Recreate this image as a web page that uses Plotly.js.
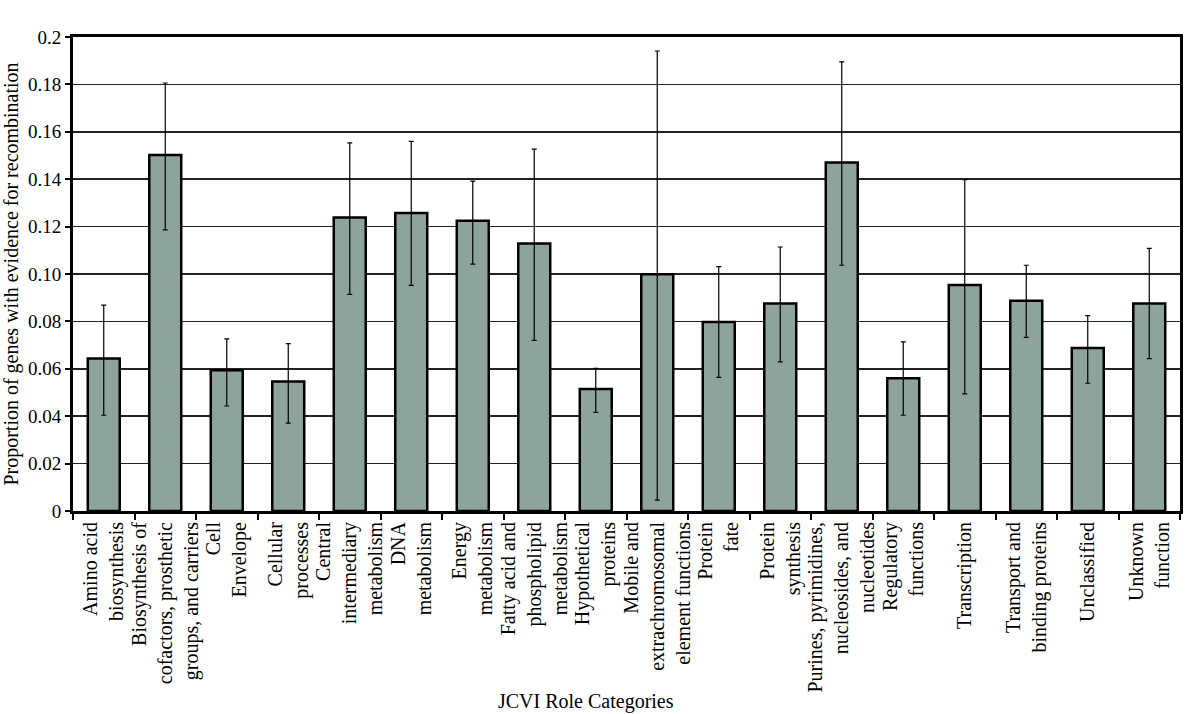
<!DOCTYPE html>
<html>
<head>
<meta charset="utf-8">
<script src="https://cdn.plot.ly/plotly-3.0.1.min.js"></script>
<style>html,body{margin:0;padding:0;background:#fff;}#chart{width:1200px;height:714px;}</style>
</head>
<body>
<div id="chart"></div>
<script>
const categories = [
  "Amino acid<br>biosynthesis",
  "Biosynthesis of<br>cofactors, prosthetic<br>groups, and carriers",
  "Cell<br>Envelope",
  "Cellular<br>processes",
  "Central<br>intermediary<br>metabolism",
  "DNA<br>metabolism",
  "Energy<br>metabolism",
  "Fatty acid and<br>phospholipid<br>metabolism",
  "Hypothetical<br>proteins",
  "Mobile and<br>extrachromosomal<br>element functions",
  "Protein<br>fate",
  "Protein<br>synthesis",
  "Purines, pyrimidines,<br>nucleosides, and<br>nucleotides",
  "Regulatory<br>functions",
  "Transcription",
  "Transport and<br>binding proteins",
  "Unclassified",
  "Unknown<br>function"
];
const proportion = [0.0643, 0.1502, 0.0594, 0.0546, 0.1238, 0.1257, 0.1225, 0.1129, 0.0515, 0.0999, 0.0797, 0.0876, 0.1470, 0.0560, 0.0954, 0.0887, 0.0688, 0.0876];
const upperBound = [0.0869, 0.1806, 0.0726, 0.0706, 0.1553, 0.1560, 0.1392, 0.1527, 0.0602, 0.1941, 0.1031, 0.1114, 0.1895, 0.0714, 0.1398, 0.1037, 0.0824, 0.1108];
const lowerBound = [0.0404, 0.1186, 0.0443, 0.0371, 0.0914, 0.0952, 0.1042, 0.0720, 0.0416, 0.0046, 0.0564, 0.0629, 0.1037, 0.0404, 0.0494, 0.0733, 0.0539, 0.0643];
const yTickVals = [0, 0.02, 0.04, 0.06, 0.08, 0.10, 0.12, 0.14, 0.16, 0.18, 0.2];
const yTickText = ["0", "0.02", "0.04", "0.06", "0.08", "0.10", "0.12", "0.14", "0.16", "0.18", "0.2"];

const errPlus = proportion.map((v, i) => upperBound[i] - v);
const errMinus = proportion.map((v, i) => v - lowerBound[i]);

const FONT = "'Liberation Serif', 'Times New Roman', serif";

const trace = {
  type: "bar",
  x: categories,
  y: proportion,
  marker: {color: "#8ea39e", line: {color: "#000", width: 2.5}},
  error_y: {type: "data", symmetric: false, array: errPlus, arrayminus: errMinus,
            color: "#000", thickness: 1.2, width: 2.5},
  hoverinfo: "x+y"
};

const layout = {
  width: 1200, height: 714,
  margin: {l: 73, r: 20, t: 37, b: 203},
  paper_bgcolor: "#fff", plot_bgcolor: "#fff",
  font: {family: FONT, color: "#000", size: 18},
  bargap: 0.48,
  showlegend: false,
  xaxis: {
    type: "category",
    tickangle: -90,
    tickfont: {family: FONT, size: 20, color: "#000"},
    ticks: "outside", tickson: "boundaries", ticklen: 6, tickwidth: 2, tickcolor: "#000",
    showline: true, linecolor: "#000", linewidth: 3, mirror: true,
    showgrid: false, automargin: false
  },
  yaxis: {
    range: [0, 0.2],
    tickvals: yTickVals, ticktext: yTickText,
    tickfont: {family: FONT, size: 19, color: "#000"},
    ticks: "outside", ticklen: 5, tickwidth: 2, tickcolor: "#000",
    showline: true, linecolor: "#000", linewidth: 3, mirror: true,
    showgrid: true, gridcolor: "#222", gridwidth: 1.5,
    zeroline: false, automargin: false,
    title: {text: "Proportion of genes with evidence for recombination", font: {family: FONT, size: 20, color: "#000"}, standoff: 8}
  },
  annotations: [{
    text: "JCVI Role Categories", xref: "paper", yref: "paper",
    x: 0.463, y: -0.402, xanchor: "center", yanchor: "middle",
    showarrow: false, font: {family: FONT, size: 20, color: "#000"}
  }]
};

Plotly.newPlot("chart", [trace], layout, {displayModeBar: false, staticPlot: true});
</script>
</body>
</html>
